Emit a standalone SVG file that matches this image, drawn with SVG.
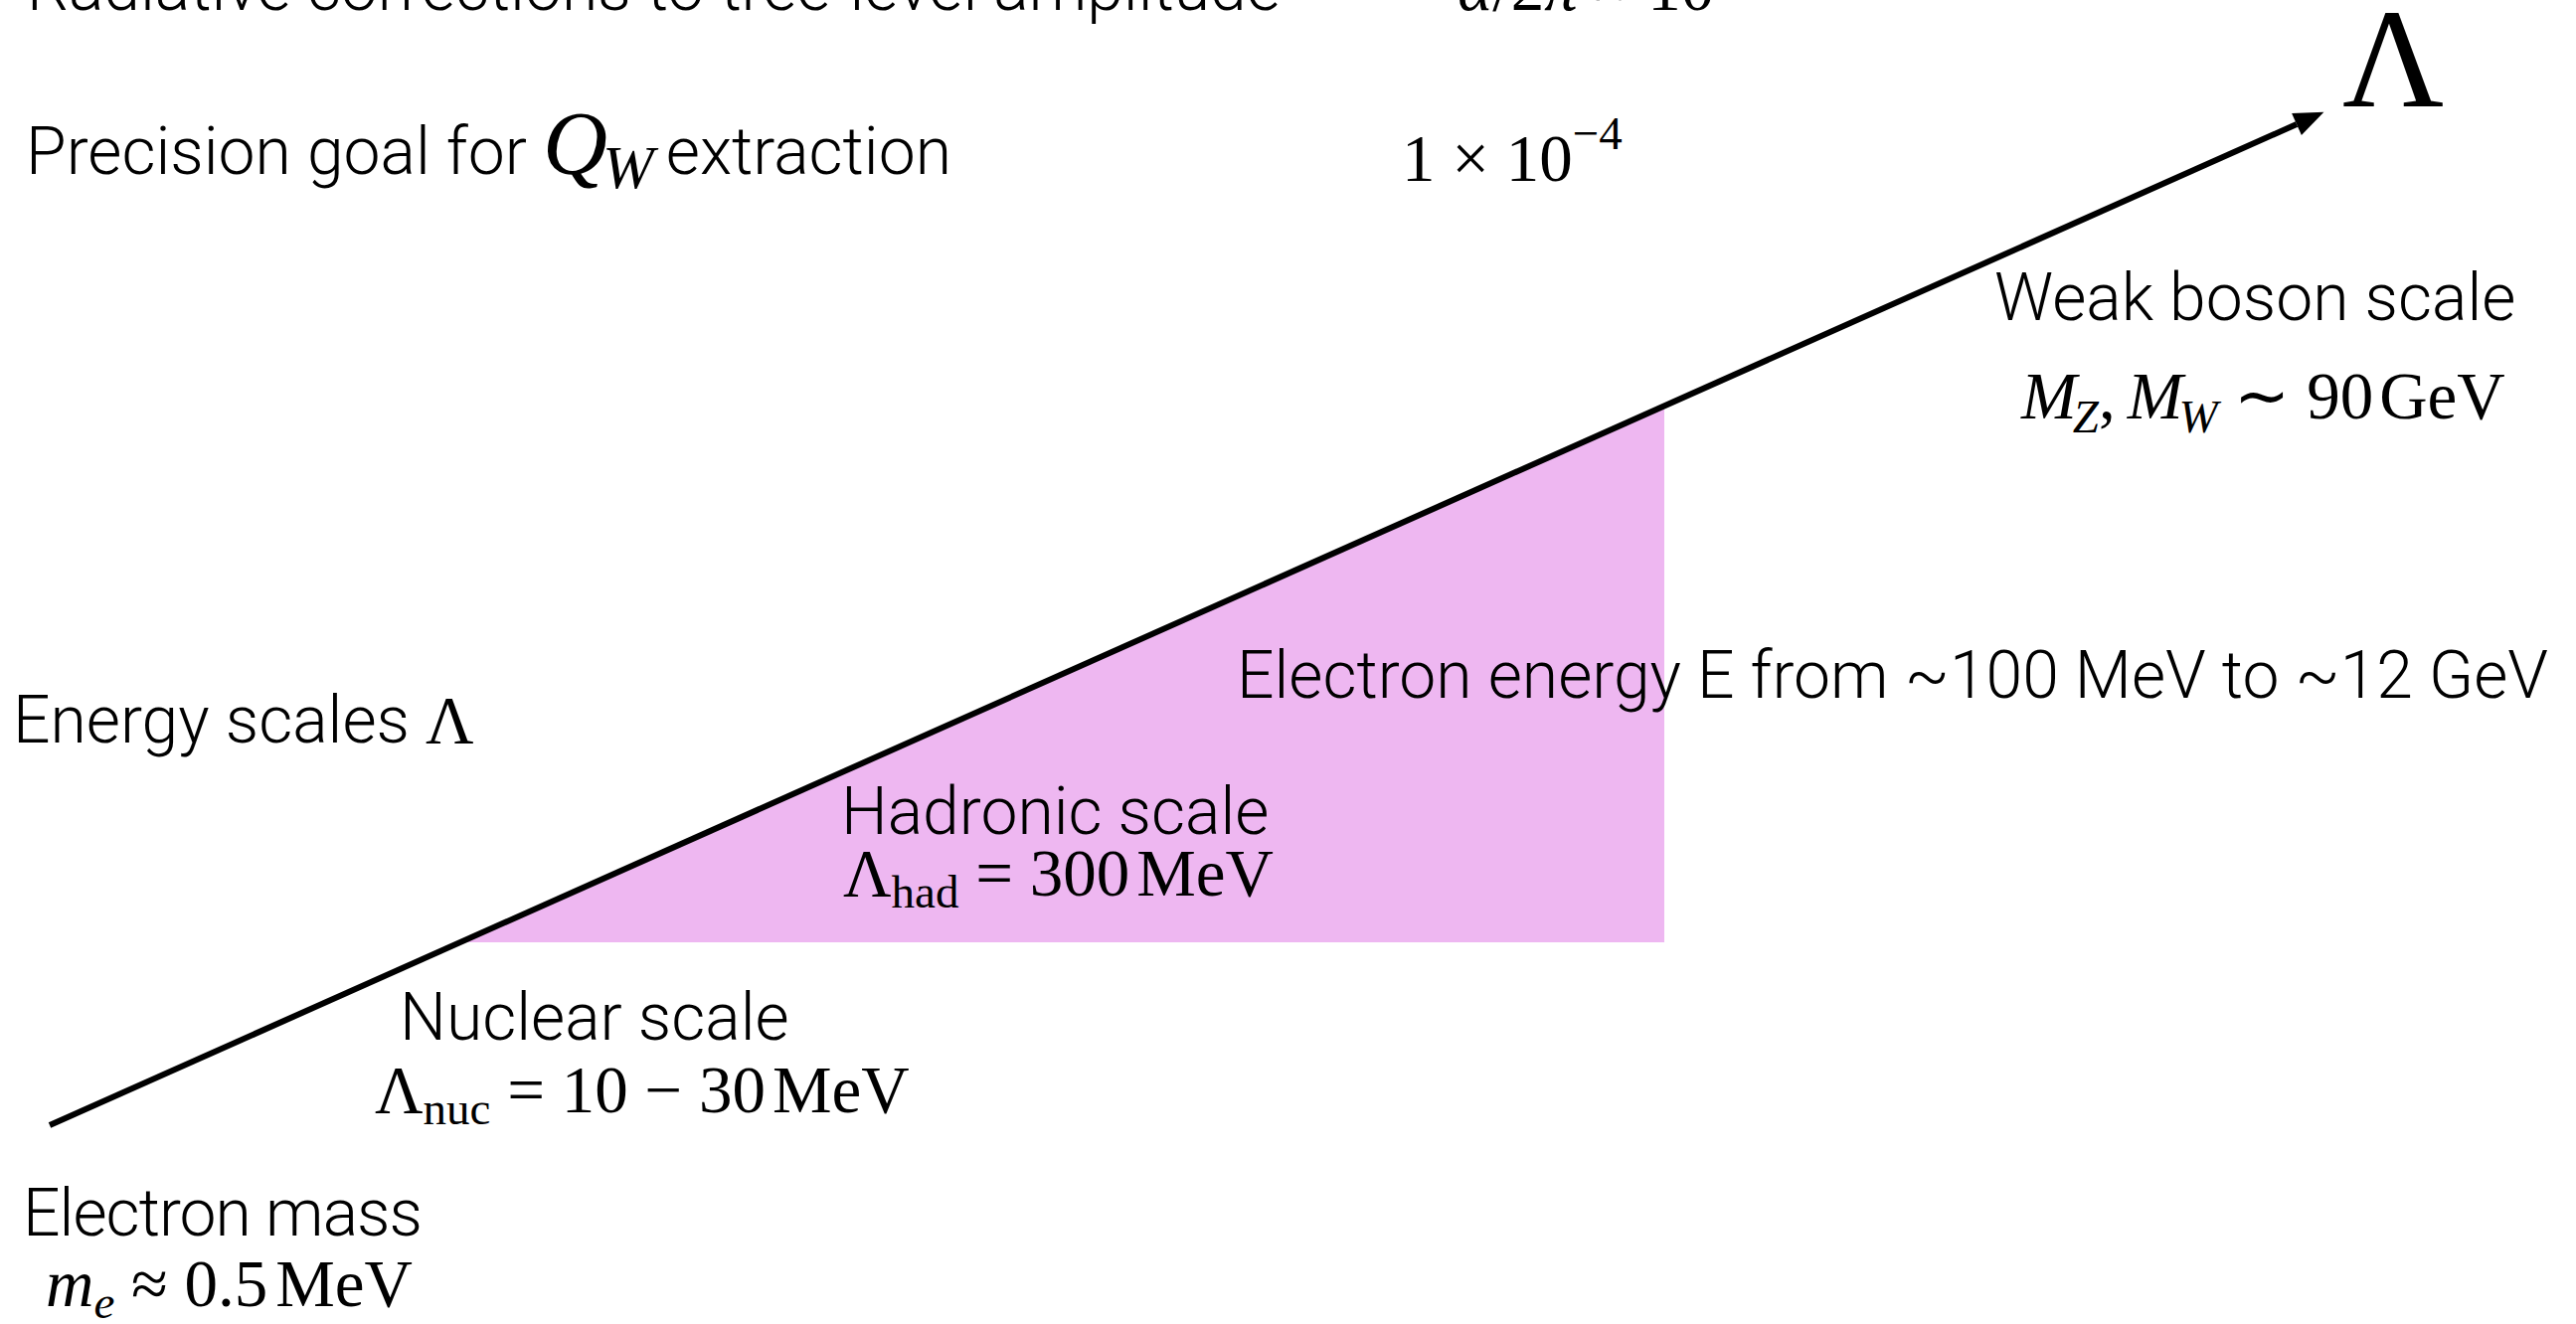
<svg xmlns="http://www.w3.org/2000/svg" width="2591" height="1332" viewBox="0 0 2591 1332">
<defs>
<style>
.s{font-family:"Roboto","Liberation Sans",sans-serif;font-weight:300;font-size:66px;fill:#000}
.m{font-family:"Liberation Serif","Times New Roman",serif;font-size:67px;fill:#000}
.i{font-style:italic}
.sub{font-size:47px}
.big{font-size:141px}
.q{font-size:90px}
.qs{font-size:62px}
.axis{stroke:#000;stroke-width:6;fill:none}
</style>
<marker id="ah" markerUnits="userSpaceOnUse" markerWidth="32" markerHeight="26" refX="0" refY="12" orient="auto" overflow="visible">
<path d="M0,0 L30,12 L0,24 z" fill="#000"/>
</marker>
</defs>
<rect width="2591" height="1332" fill="#fff"/>
<g id="region">
<polygon points="463,948 1674,409 1674,948" fill="#EEB7F1"/>
</g>
<g id="connectors">
<line class="axis" x1="50" y1="1132" x2="2310" y2="125" marker-end="url(#ah)"/>
</g>
<g id="radiative">
<text class="s" x="27" y="10">Radiative corrections to tree-level amplitude</text>
<text class="m" x="1466" y="10"><tspan class="i">α</tspan>/2<tspan class="i">π</tspan> ≈ 10<tspan class="sub" dy="-28">−3</tspan></text>
</g>
<g id="precision">
<text class="s" x="26" y="175">Precision goal for <tspan class="m i q">Q</tspan><tspan class="m i qs" dx="-5" dy="14">W</tspan><tspan dx="-4" dy="-14"> extraction</tspan></text>
<text class="m" x="1410" y="182">1 × 10<tspan class="sub" dy="-32">−4</tspan></text>
</g>
<g id="lambda-axis">
<text class="m big" x="2356" y="107">Λ</text>
</g>
<g id="weak">
<text class="s" x="2006" y="322">Weak boson scale</text>
<text class="m" x="2033" y="421"><tspan class="i">M</tspan><tspan class="i sub" dx="-4" dy="14">Z</tspan><tspan dy="-14">,</tspan><tspan class="i" dx="12">M</tspan><tspan class="i sub" dx="-4" dy="14">W</tspan><tspan dy="-14"> ∼ 90</tspan><tspan dx="6">GeV</tspan></text>
</g>
<g id="electron-energy">
<text class="s" x="1244" y="702">Electron energy E from ~100 MeV to ~12 GeV</text>
</g>
<g id="energy-scales">
<text class="s" x="13" y="747">Energy scales <tspan class="m">Λ</tspan></text>
</g>
<g id="hadronic">
<text class="s" x="846" y="839">Hadronic scale</text>
<text class="m" x="848" y="901">Λ<tspan class="sub" dy="12">had</tspan><tspan dy="-12"> = 300</tspan><tspan dx="7">MeV</tspan></text>
</g>
<g id="nuclear">
<text class="s" x="402" y="1046">Nuclear scale</text>
<text class="m" x="377" y="1119">Λ<tspan class="sub" dy="12">nuc</tspan><tspan dy="-12"> = 10 − 30</tspan><tspan dx="7">MeV</tspan></text>
</g>
<g id="electron-mass">
<text class="s" x="23" y="1243" textLength="402" lengthAdjust="spacing">Electron mass</text>
<text class="m" x="46" y="1314"><tspan class="i">m</tspan><tspan class="i sub" dy="12">e</tspan><tspan dy="-12"> ≈ 0.5</tspan><tspan dx="8">MeV</tspan></text>
</g>
</svg>
